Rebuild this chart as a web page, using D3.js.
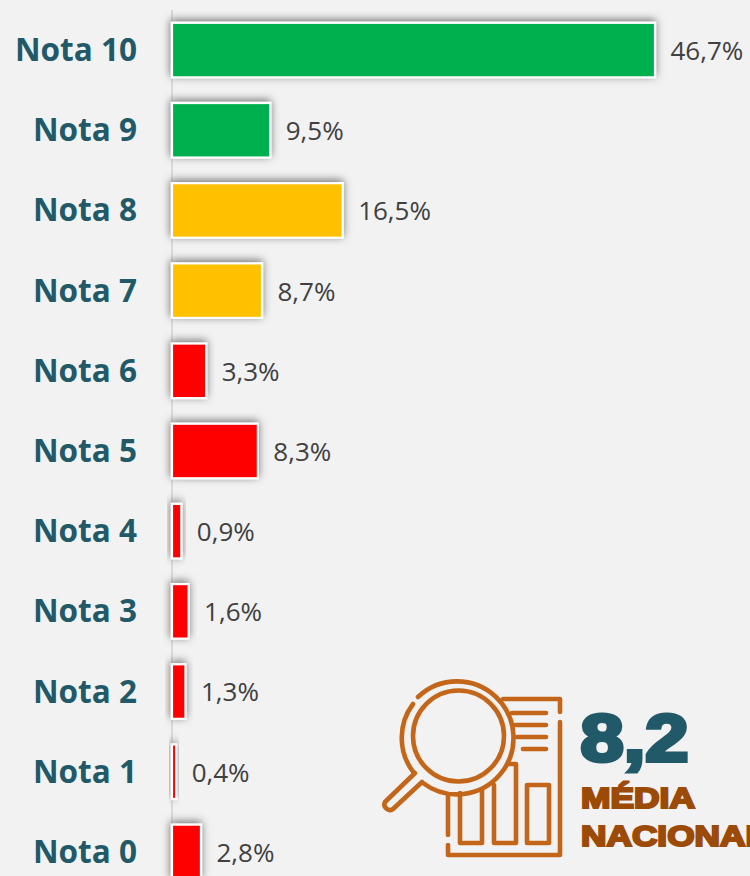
<!DOCTYPE html>
<html>
<head>
<meta charset="utf-8">
<script src="https://cdn.jsdelivr.net/npm/d3@7"></script>
<style>
    html, body { margin: 0; padding: 0; background: #f2f2f2; overflow: hidden; }
    svg { display: block; }
</style>
</head>
<body>
<div id="chart"></div>
<script>
const categories = ["Nota 10", "Nota 9", "Nota 8", "Nota 7", "Nota 6", "Nota 5", "Nota 4", "Nota 3", "Nota 2", "Nota 1", "Nota 0"];
const values = [46.7, 9.5, 16.5, 8.7, 3.3, 8.3, 0.9, 1.6, 1.3, 0.4, 2.8];
const barColors = ["#00b050", "#00b050", "#ffc000", "#ffc000", "#ff0000", "#ff0000", "#ff0000", "#ff0000", "#ff0000", "#ff0000", "#ff0000"];
const averageValue = "8,2";
const averageLabel = ["MÉDIA", "NACIONAL"];
const averageLabelWidths = [114, 186];

const wSvg = 750;
const hSvg = 876;
const iconColor = "#c46619";

const svg = d3.select("#chart").append("svg")
    .attr("width", wSvg)
    .attr("height", hSvg)
    .attr("viewBox", `0 0 ${wSvg} ${hSvg}`);

const shadow = svg.append("defs").append("filter")
    .attr("id", "bar-shadow")
    .attr("x", "-50%").attr("y", "-30%")
    .attr("width", "200%").attr("height", "160%");
shadow.append("feDropShadow")
    .attr("dx", -0.5).attr("dy", -2)
    .attr("stdDeviation", 4)
    .attr("flood-color", "#000")
    .attr("flood-opacity", 0.55);

const x = d3.scaleLinear().domain([0, 46.7]).range([172, 655]);
const y = d3.scaleBand().domain(categories).range([10, 892]).paddingInner(0.3).paddingOuter(0.15);

const fmt = v => v.toFixed(1).replace(".", ",") + "%";

// the line goes under the bars so their shadows darken it
svg.append("line")
    .attr("x1", x(0)).attr("x2", x(0))
    .attr("y1", 10).attr("y2", hSvg)
    .attr("stroke", "#d9d9d9")
    .attr("stroke-width", 2);

svg.append("g")
    .selectAll("rect")
    .data(values)
    .enter()
    .append("rect")
        .attr("x", x(0))
        .attr("y", (d, i) => y(categories[i]) + 0.8)
        .attr("width", d => x(d) - x(0))
        .attr("height", y.bandwidth() - 1.6)
        .attr("fill", (d, i) => barColors[i])
        .attr("stroke", "#fff")
        .attr("stroke-width", 2.2)
        .attr("filter", "url(#bar-shadow)");

const axis = svg.append("g")
    .attr("transform", `translate(${x(0)}, 0)`)
    .call(d3.axisLeft(y).tickSize(0).tickPadding(35));

axis.select(".domain").remove();
axis.selectAll("text")
    .attr("dy", "0.35em")
    .attr("font-family", "'Open Sans'")
    .attr("font-weight", 700)
    .attr("font-size", 31.5)
    .attr("fill", "#215968");

svg.append("g")
    .selectAll("text")
    .data(values)
    .enter()
    .append("text")
        .attr("x", d => x(d) + 15.5)
        .attr("y", (d, i) => y(categories[i]) + y.bandwidth() / 2)
        .attr("dy", "0.38em")
        .attr("font-family", "'Open Sans'")
        .attr("font-size", 26)
        .attr("fill", "#404040")
        .text(fmt);

// magnifier + report icon
const icon = svg.append("g")
    .attr("fill", "none")
    .attr("stroke", iconColor)
    .attr("stroke-width", 4.6)
    .attr("stroke-linecap", "round")
    .attr("stroke-linejoin", "round");

const iconPaths = [
    "M503 699 H560 V712",
    "M560 722 V855 H448 V845",
    "M448 835 V794",
    "M512 713 H546",
    "M515 725 H546",
    "M517 737 H546",
    "M523 749 H546",
    "M460 793 V843 H482 V790",
    "M494 785 V843 H516 V764 H508",
    "M527 785 H549 V843 H527 Z",
    "M415 773 L385 802 A5.5 5.5 0 0 0 393 809 L422 782",
    "M413 704 A56.5 56.5 0 0 0 414 773",
    "M418 697 A56.5 56.5 0 1 1 423 783"
];

icon.selectAll("path")
    .data(iconPaths)
    .enter()
    .append("path")
        .attr("d", d => d);

icon.append("circle")
    .attr("cx", 458.5)
    .attr("cy", 736)
    .attr("r", 45.5);

svg.append("text")
    .attr("x", 580.5)
    .attr("y", 761)
    .attr("font-family", "'Liberation Sans'")
    .attr("font-weight", 700)
    .attr("font-size", 67)
    .attr("textLength", 108)
    .attr("lengthAdjust", "spacingAndGlyphs")
    .attr("fill", "#215968")
    .attr("stroke", "#215968")
    .attr("stroke-width", 4)
    .text(averageValue);

svg.append("g")
    .selectAll("text")
    .data(averageLabel)
    .enter()
    .append("text")
        .attr("x", 581)
        .attr("y", (d, i) => 807.5 + i * 38)
        .attr("font-family", "'Liberation Sans'")
        .attr("font-weight", 700)
        .attr("font-size", 30)
        .attr("textLength", (d, i) => averageLabelWidths[i])
        .attr("lengthAdjust", "spacingAndGlyphs")
        .attr("fill", "#9c4a08")
        .attr("stroke", "#9c4a08")
        .attr("stroke-width", 2.2)
        .text(d => d);
</script>
</body>
</html>
